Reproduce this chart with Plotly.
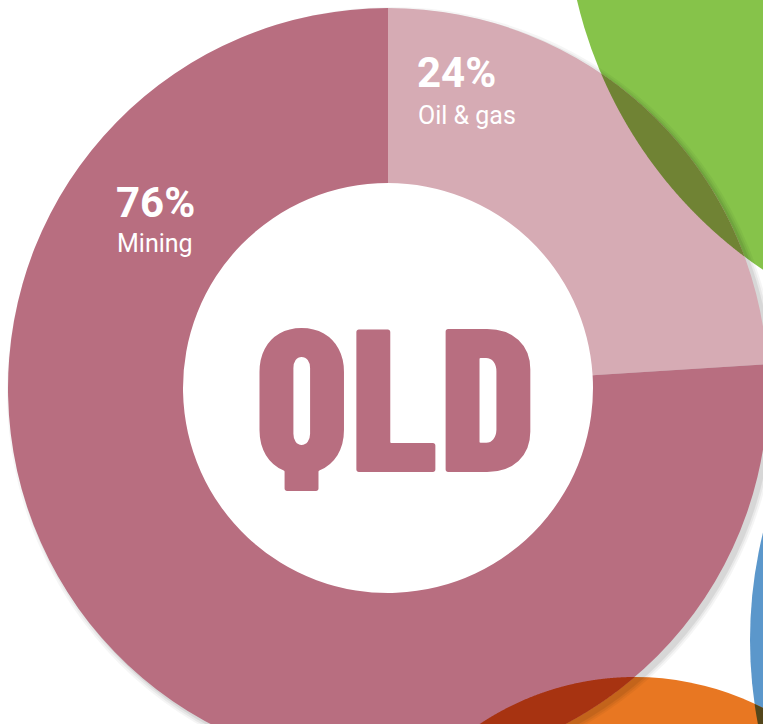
import numpy as np
import plotly.graph_objects as go

# ---- data ----
labels = ["Oil & gas", "Mining"]
values = [24, 76]
percent_text = ["24%", "76%"]
slice_colors = ["#D6ABB4", "#B86E80"]
center_label = "QLD"

# ---- canvas geometry (pixels) ----
W, H = 768, 768
ML, MT = 8, 8
PW, PH = W - ML, H - MT
DONUT_C = (388, 388)
R_OUT = 380
R_IN = 205


def px(x):
    return (x - ML) / PW


def py(y):
    return 1 - (y - MT) / PH


def circle(cx, cy, r, color, layer="below", opacity=1.0):
    return dict(type="circle", xref="paper", yref="paper",
                x0=px(cx - r), x1=px(cx + r), y0=py(cy + r), y1=py(cy - r),
                fillcolor=color, line=dict(width=0), layer=layer, opacity=opacity)


def lens_path(c1, r1, c2, r2, n=3000):
    t = np.linspace(0, 2 * np.pi, n, endpoint=False)
    pts = []
    for (c, r, co, ro) in [(c1, r1, c2, r2), (c2, r2, c1, r1)]:
        x = c[0] + r * np.cos(t)
        y = c[1] + r * np.sin(t)
        m = (x - co[0]) ** 2 + (y - co[1]) ** 2 <= ro ** 2
        pts.append(np.column_stack([x[m], y[m]]))
    P = np.vstack(pts)
    cen = P.mean(axis=0)
    ang = np.arctan2(P[:, 1] - cen[1], P[:, 0] - cen[0])
    P = P[np.argsort(ang)]
    return "M " + " L ".join(f"{px(a):.5f},{py(b):.5f}" for a, b in P) + " Z"


GREEN_C, GREEN_R = (1015, -103), 450
BLUE_C, BLUE_R = (1200, 640), 450
ORANGE_C, ORANGE_R = (635, 957), 280

shapes = [
    circle(*GREEN_C, GREEN_R, "#86C34A"),
    circle(*BLUE_C, BLUE_R, "#5B97CB"),
    circle(*ORANGE_C, ORANGE_R, "#E87722"),
    dict(type="path", xref="paper", yref="paper", layer="below",
         path=lens_path(ORANGE_C, ORANGE_R, BLUE_C, BLUE_R),
         fillcolor="#53461B", line=dict(width=0)),
]
# soft shadow of donut (lower-right)
for dr, op in [(5, 0.04), (3, 0.05), (1, 0.07)]:
    shapes.append(circle(DONUT_C[0] + 4, DONUT_C[1] + 4, R_OUT + dr, "#000000", opacity=op))
# keep the hole white
shapes.append(circle(DONUT_C[0], DONUT_C[1], R_IN + 2, "#FFFFFF"))
# overlaps drawn above the donut
shapes += [
    dict(type="path", xref="paper", yref="paper", layer="above",
         path=lens_path(GREEN_C, GREEN_R, DONUT_C, R_OUT),
         fillcolor="#708334", line=dict(width=0)),
    dict(type="path", xref="paper", yref="paper", layer="above",
         path=lens_path(ORANGE_C, ORANGE_R, DONUT_C, R_OUT),
         fillcolor="#A73311", line=dict(width=0)),
]

fig = go.Figure(go.Pie(
    labels=labels, values=values, sort=False, direction="clockwise", rotation=0,
    hole=R_IN / R_OUT, marker=dict(colors=slice_colors, line=dict(width=0)),
    textinfo="none", hoverinfo="label+percent", showlegend=False,
    domain=dict(x=[0, 1], y=[0, 1]),
))

white = "#FFFFFF"
LABEL_FONT = "Roboto"
annotations = [
    dict(text=percent_text[1], x=px(114), y=py(202),
         font=dict(family=LABEL_FONT, size=42, color=white, weight="bold")),
    dict(text=labels[1], x=px(115), y=py(243),
         font=dict(family=LABEL_FONT, size=25, color=white)),
    dict(text=percent_text[0], x=px(415), y=py(73),
         font=dict(family=LABEL_FONT, size=42, color=white, weight="bold")),
    dict(text=labels[0], x=px(416), y=py(115),
         font=dict(family=LABEL_FONT, size=25, color=white)),
]
for a in annotations:
    a.update(xref="paper", yref="paper", xanchor="left", yanchor="middle", showarrow=False)
annotations.append(dict(text=center_label, x=px(395), y=py(391), xref="paper", yref="paper",
                        xanchor="center", yanchor="middle", showarrow=False,
                        font=dict(family="Barlow Condensed, Roboto Condensed, DejaVu Sans Condensed", size=204,
                                  color="#B86E80", weight=800)))

fig.update_layout(width=W, height=H, margin=dict(l=ML, t=MT, r=0, b=0, pad=0),
                  paper_bgcolor="white", plot_bgcolor="white",
                  shapes=shapes, annotations=annotations)

fig.write_html("out.html", config={"displayModeBar": False}, post_script=(
    "document.body.style.margin='0';"
    "document.body.style.overflow='hidden';"
    "document.documentElement.style.overflow='hidden';"))
